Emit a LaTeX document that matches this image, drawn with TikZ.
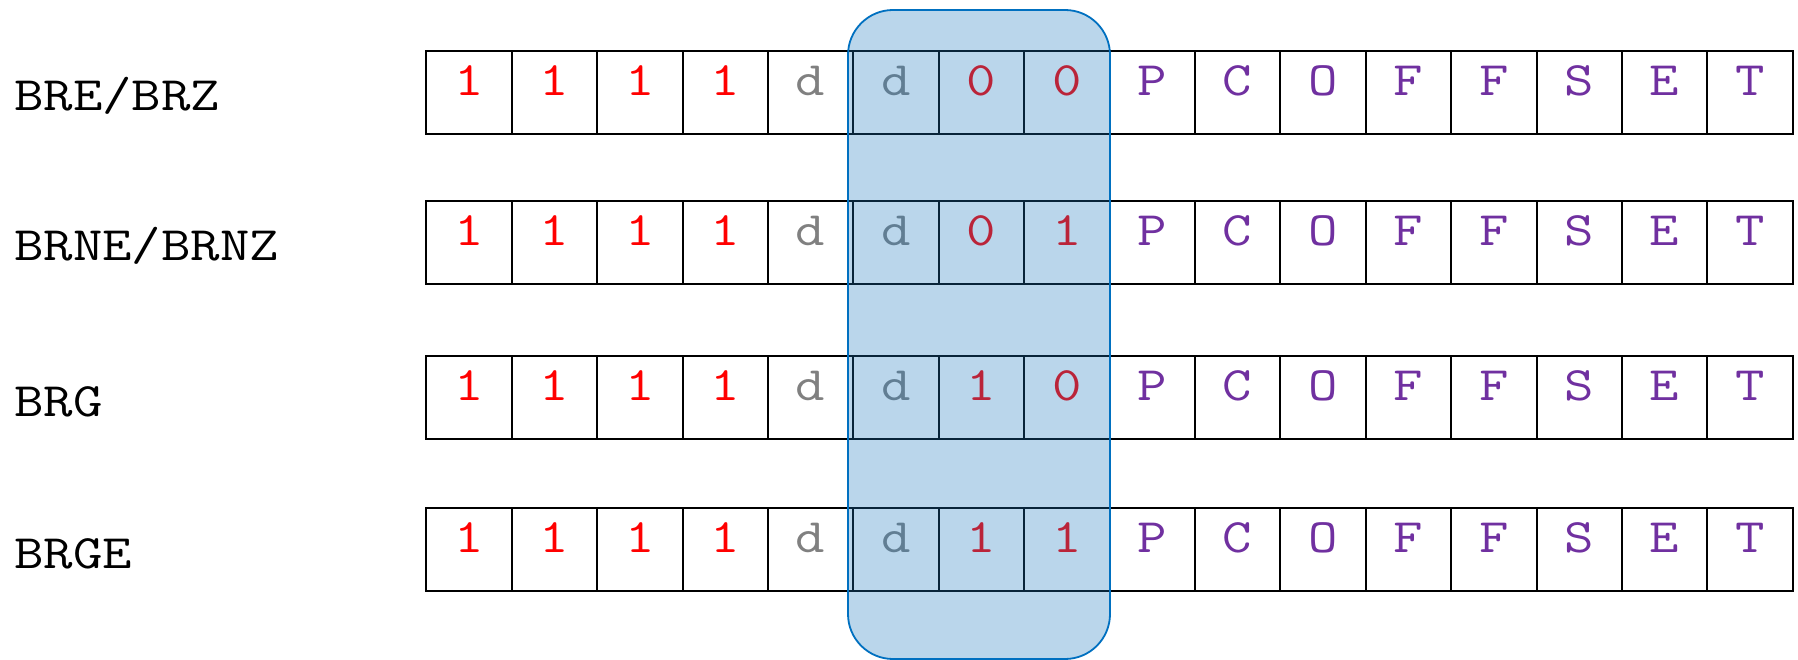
\documentclass[tikz,border=0pt]{standalone}
\usepackage{fontspec}
\newcommand{\wide}[1]{\scalebox{1.19}[1]{#1}}
\definecolor{bitred}{RGB}{255,0,0}
\definecolor{dgray}{RGB}{128,128,128}
\definecolor{offpurple}{RGB}{112,48,160}
\definecolor{hlfill}{RGB}{28,122,192}
\definecolor{hlborder}{RGB}{0,112,192}
\begin{document}
\begin{tikzpicture}[x=1pt,y=-1pt,
  cell/.style={draw=black, line width=1.9pt, minimum width=85.4pt, minimum height=83pt,
    inner sep=0pt, anchor=north west, font=\fontsize{48}{58}\selectfont\ttfamily,
    text height=0.6em, text depth=0pt},
  rowlabel/.style={anchor=base west, inner sep=0pt, font=\fontsize{48}{58}\selectfont\ttfamily},
  hlbox/.style={fill=hlfill, fill opacity=0.3, draw=hlborder, line width=1.8pt, rounded corners=45pt}]
\fill[white] (0,0) rectangle (1798,660);
\useasboundingbox (0,0) rectangle (1798,660);
\node[rowlabel] (l1) at (14,111) {\wide{BRE/BRZ}};
\node[rowlabel] (l2) at (14,261) {\wide{BRNE/BRNZ}};
\node[rowlabel] (l3) at (14,416) {\wide{BRG}};
\node[rowlabel] (l4) at (14,568) {\wide{BRGE}};
\foreach \r/\y/\A/\B in {1/50/0/0,2/200/0/1,3/355/1/0,4/507/1/1}{
  \foreach \i/\t/\c in {1/1/bitred,2/1/bitred,3/1/bitred,4/1/bitred,5/d/dgray,6/d/dgray,
      7/\A/bitred,8/\B/bitred,9/P/offpurple,10/C/offpurple,11/O/offpurple,12/F/offpurple,
      13/F/offpurple,14/S/offpurple,15/E/offpurple,16/T/offpurple}{
    \node[cell, text=\c] (c\r-\i) at ({425.4+(\i-1)*85.4},\y) {\wide{\t}};
  }
}
\path[hlbox] (848,10) rectangle (1110,659);
\end{tikzpicture}
\end{document}
